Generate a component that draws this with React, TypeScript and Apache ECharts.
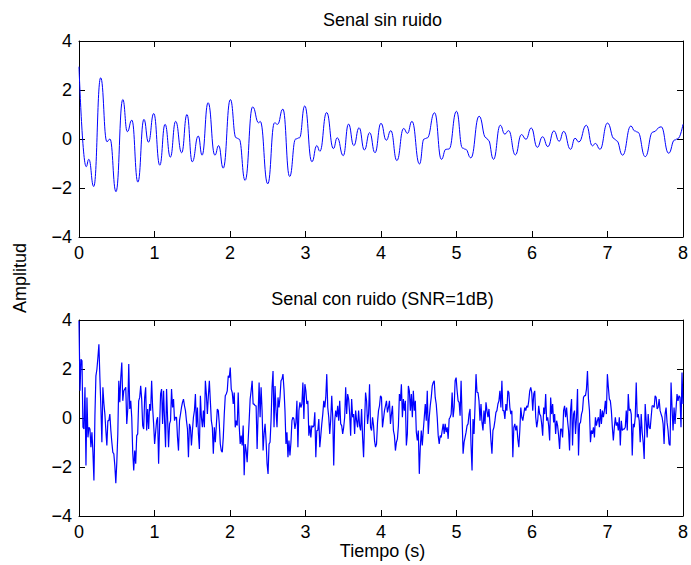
import React, { useEffect, useRef } from "react";
import * as echarts from "echarts";

// Clean signal: turning points and shoulders of the waveform (time in s, amplitude)
const cleanTime = [
  0, 0.095, 0.13, 0.195, 0.287, 0.37, 0.41, 0.49, 0.58, 0.64, 0.7, 0.78, 0.86, 0.92, 0.99, 1.07, 1.14, 1.21, 1.28,
  1.36, 1.43, 1.5, 1.58, 1.63, 1.71, 1.8, 1.85, 1.91, 2.005, 2.08, 2.12, 2.2, 2.3, 2.38, 2.4, 2.5, 2.59, 2.63, 2.7,
  2.79, 2.87, 2.92, 2.99, 3.085, 3.15, 3.19, 3.28, 3.37, 3.42, 3.5, 3.57, 3.64, 3.71, 3.78, 3.85, 3.92, 4.0, 4.07,
  4.13, 4.21, 4.3, 4.35, 4.41, 4.51, 4.57, 4.61, 4.71, 4.8, 4.86, 4.9, 5.0, 5.08, 5.12, 5.19, 5.3, 5.39, 5.42, 5.49,
  5.58, 5.64, 5.69, 5.78, 5.86, 5.92, 5.99, 6.07, 6.14, 6.21, 6.29, 6.36, 6.42, 6.51, 6.57, 6.62, 6.72, 6.8, 6.84,
  6.9, 7.0, 7.09, 7.12, 7.2, 7.31, 7.36, 7.4, 7.5, 7.6, 7.71, 7.81, 7.89, 7.93, 8.0,
];
const cleanAmp = [
  2.95, -1.13, -0.83, -1.94, 2.5, -0.11, 0.0, -2.15, 1.61, 0.3, 0.77, -1.76, 0.8, -0.13, 1.04, -1.07, 0.6, -0.74, 0.72,
  -0.56, 1.0, -0.93, 0.12, -0.66, 1.48, -0.66, -0.27, -1.19, 1.61, 0.05, 0.0, -1.69, 1.31, 0.66, 0.72, -1.83, 0.66, 0.6,
  1.22, -1.53, 0.0, 0.05, 1.35, -0.93, -0.27, -0.5, 1.08, -0.39, 0.05, -0.68, 0.61, -0.27, 0.46, -0.45, 0.26, -0.56,
  0.64, -0.05, 0.34, -0.88, 0.43, 0.23, 0.72, -1.02, 0.0, 0.04, 1.07, -0.83, -0.42, -0.41, 1.13, -0.37, -0.42, -0.77,
  0.93, 0.05, -0.04, -0.83, 0.56, 0.2, 0.34, -0.65, 0.18, -0.01, 0.45, -0.34, 0.09, -0.31, 0.33, -0.09, 0.31, -0.42,
  0.03, -0.12, 0.56, -0.28, -0.18, -0.42, 0.65, 0.01, -0.07, -0.66, 0.53, 0.33, 0.28, -0.72, 0.28, 0.5, -0.58, -0.04,
  0.01, 0.6,
];

// Noisy signal: evenly spaced samples over 0..8 s
const noisyAmp = [
  3.96, 1.11, 2.4, 2.33, -0.38, -0.45, 1.25, -1.94, 0.84, -0.79,
  -0.38, -0.45, -1.19, -0.58, -1.4, -2.55, 0.09, 1.72, 1.99, 2.47,
  3.01, 1.65, 0.43, -0.99, 1.25, 0.6, 0.16, -0.51, -1.12, -0.11,
  -0.11, 0.16, -0.5, -0.99, -1.4, -1.46, -1.94, -2.66, -1.8, -0.65,
  1.52, 0.64, 1.65, 2.26, 0.7, 1.11, 1.18, 1.25, -0.24, 0.37,
  2.2, 0.37, 0.7, 0.03, -1.4, -2.14, -1.33, -1.87, -0.72, -0.65,
  0.7, 0.84, 1.31, 0.77, -0.31, -0.45, 0.84, 1.25, -0.51, 0.37,
  -0.45, 0.57, 0.3, 1.52, 0.43, -0.24, -1.06, -0.58, -0.11, 0.03,
  -1.87, -0.31, 0.98, 1.18, -0.24, 1.11, -0.11, -1.19, 1.18, 0.03,
  -1.19, -0.24, -0.11, 1.18, 0.43, 0.77, -0.11, 0.03, 0.03, -0.79,
  -1.33, -0.11, 0.16, 0.43, 0.64, 0.77, 0.5, 0.3, -0.11, -0.45,
  -1.6, -0.24, -0.38, -1.12, -0.51, 0.03, 0.3, 0.98, -0.38, 0.43,
  -0.65, -1.26, 0.91, 0.03, -0.38, 0.3, -0.38, 1.52, 0.98, 0.16,
  0.9, 1.52, 0.7, -0.11, -0.38, -1.46, -0.38, -0.99, -0.31, 0.37,
  0.3, -0.24, -1.06, -1.33, -1.4, -0.79, 0.16, 0.91, 0.98, 1.11,
  1.72, 1.65, 2.06, 1.18, 1.04, 0.57,
  1.04, -0.38, -0.11, -0.31, 1.04, -0.31, -1.06, -0.72, -1.12, -0.31,
  -2.34, -1.06, -1.33, -1.8, -0.92, -0.11, 0.77, 1.11, 1.52, 0.57,
  0.57, 0.5, 0.5, -1.26, 0.16, 1.45, 0.03, 1.25, 0.3, -1.33,
  -0.65, -0.24, -0.92, -1.87, -2.28, -1.06, -0.99, -0.11, 1.25, 1.92,
  -0.38, 1.31, 0.3, -0.38, 0.84, 0.43, 0.84, 1.52, 1.59, 1.79,
  1.18, 0.3, -1.06, -0.58, -1.6, -0.92, -1.53, -0.99, -0.11, 0.03,
  -0.04, -0.45, -0.18, 0.7, -1.19, 0.3, 0.64, 0.43, 0.57, 1.45,
  -0.04, 1.38, 1.11, 0.57, 0.7, -0.72, -0.31, -0.79, -0.31, -0.38,
  -0.31, 0.23, -1.6, -0.51, -0.51, -0.04, -1.19, -0.72, -0.24, 0.16,
  0.7, 0.43, 0.84, 1.79, 0.43, 0.03, -0.65, -0.04, 0.91, 0.03,
  -1.94, -0.11, 0.3, 0.03, 0.5, -0.11, 0.7, -0.24, -0.31, -0.65,
  -0.38, 0.03, 1.25, 0.16, 0.98, 0.77, 0.16, -0.72, 0.77, 0.03,
  0.16, -0.65, 0.3, -0.11, -0.38, 0.3, -0.31, -0.51, 0.37, -0.79,
  -1.6, -0.18, 1.04, 0.7, -0.24, 0.16, 1.38, -0.38, -0.51, 0.03,
  -0.31, -0.92, -1.19, -1.06, -0.18, 0.3, 0.5, 0.91, 0.84, -0.38,
  -0.04, 0.3, 0.5, 0.7, 0.23, 0.43,
  0.7, -0.24, 0.16, 0.5, -0.51, -0.72, -1.33, -0.99, -0.85, -0.31,
  0.98, 0.7, 1.38, 0.03, 0.77, 0.3, 0.7, -1.12, -0.65, 1.31,
  1.11, 0.3, 0.98, 0.03, 1.11, 0.3, 0.7, -0.58, -0.92, -0.51,
  -2.28, -1.19, -0.51, -1.12, -0.51, 0.03, 0.57, -0.11, 1.11, -0.65,
  0.03, 0.5, 0.84, 1.31, 1.45, 1.52, 0.84, 0.57, 0.03, -0.72,
  -1.06, -0.72, -0.79, -0.51, -0.24, -0.65, -0.24, -0.58, -0.38, -0.85,
  -0.04, 0.03, 0.16, 1.04, 0.03, 0.43, 1.52, 1.65, 1.11, 0.7,
  0.64, 0.09, 1.52, 0.03, -1.46, -0.99, -0.79, -0.58, -0.31, -0.24,
  0.16, 0.37, -1.12, -2.14, -0.04, -0.65, 0.5, 1.79, 1.04, 1.04,
  0.7, -0.11, 0.57, -0.18, -0.51, 0.3, -0.24, 0.64, 0.3, 0.03,
  0.37, -0.24, -0.92, -1.46, -0.51, -0.38, -0.11, 0.23, 0.3, 0.57,
  0.7, 1.11, 0.43, 1.52, 0.3, 0.3, -0.04, 0.57, 0.3, 1.11,
  1.04, 0.43, 0.16, 0.3, -1.6, -0.38, -0.24, -0.51, -0.31, -0.85,
  -1.19, -0.51, 0.43, 0.03, -0.11, 0.16, 0.43, 0.3, 0.5, 0.43,
  0.7, 1.11, 1.25, 1.04, 0.3, 0.98, 1.11, 0.03, -0.38, -0.11,
  0.5, 0.16, 0.09, -0.24, -0.72,
  0.43, 0.16, 0.98, -0.11, 0.03, -0.31, -0.92, 0.84, 0.16, 0.57,
  -0.18, 0.16, -0.65, -0.11, -0.31, -0.72, -1.26, -0.45, -0.45, -0.79,
  0.3, 0.5, 0.03, 0.43, -0.11, -0.51, -1.33, 0.3, 0.77, -1.12,
  0.16, 0.3, -0.65, 0.03, 1.18, -1.53, -0.24, -0.18, 0.16, 0.3,
  0.84, 0.91, 0.91, 1.18, 1.92, 0.77, 0.3, -0.99, -0.51, -0.65,
  -0.38, -0.79, 0.03, -0.31, -0.11, 0.03, -0.38, 0.37, -0.24, 0.3,
  0.03, 0.3, 0.7, 0.16, 1.79, 1.25, 0.77, 0.7, 0.3, -0.38,
  -0.92, -0.38, 0.03, -0.31, -0.18, -0.51, 0.03, -1.12, -0.11, -0.51,
  -0.45, -0.45, -0.38, 0.3, -0.51, 0.98, 0.3, 0.37, 0.16, -1.53,
  -0.24, -0.38, 0.03, 1.45, 0.03, 0.16, -0.11, -0.99, 0.16, -0.58,
  -0.99, -1.67, 0.57, -0.11, -0.79, 0.16, -0.38, -0.45, 0.03, 0.5,
  0.5, 0.43, 0.91, 0.84, 0.37, 0.43, 0.77, 0.3, 0.16, 0.03,
  -0.24, -1.06, 0.16, 0.43, -0.18, -0.51, -1.06, -1.12, 1.45, 0.43,
  -0.51, 0.43, -0.24, 0.37, 0.98, 0.7, 0.91, 0.84, -0.38, 1.86,
  0.57,
];

const tStart = 0;
const tEnd = 8;
const ampMin = -4;
const ampMax = 4;

const titles = ["Senal sin ruido", "Senal con ruido (SNR=1dB)"];
const yName = "Amplitud";
const xName = "Tiempo (s)";

const FONT = "'Liberation Sans', Arial, Helvetica, sans-serif";
const FONT_SIZE = 18;
const LINE_BLUE = "#0000ff";

const GRID_LEFT = 79;
const GRID_WIDTH = 607;
const GRID_HEIGHT = 196;
const GRID_TOPS = [41, 320];

const minusSign = (v: number) => String(v).replace("-", "\u2212");

function xAxisFor(grid: number, position: "bottom" | "top", labels: boolean) {
  return {
    type: "value",
    gridIndex: grid,
    position,
    min: tStart,
    max: tEnd,
    interval: 1,
    axisLine: { show: true, onZero: false, lineStyle: { color: "#000", width: 1 } },
    axisTick: { show: true, inside: true, length: 6, lineStyle: { color: "#000", width: 1 } },
    axisLabel: { show: labels, color: "#000", fontSize: FONT_SIZE, fontFamily: FONT, margin: 7 },
    splitLine: { show: false },
  };
}

function yAxisFor(grid: number, position: "left" | "right", labels: boolean) {
  return {
    type: "value",
    gridIndex: grid,
    position,
    min: ampMin,
    max: ampMax,
    interval: 2,
    axisLine: { show: true, onZero: false, lineStyle: { color: "#000", width: 1 } },
    axisTick: { show: true, inside: true, length: 6, lineStyle: { color: "#000", width: 1 } },
    axisLabel: {
      show: labels,
      color: "#000",
      fontSize: FONT_SIZE,
      fontFamily: FONT,
      margin: 7,
      formatter: minusSign,
    },
    splitLine: { show: false },
  };
}

export default function App() {
  const ref = useRef<HTMLDivElement>(null);

  useEffect(() => {
    if (!ref.current) return;
    const chart = echarts.init(ref.current, null, { renderer: "svg" });

    const cleanData = cleanTime.map((t, i) => [t, cleanAmp[i]]);
    const step = (tEnd - tStart) / (noisyAmp.length - 1);
    const noisyData = noisyAmp.map((v, i) => [tStart + i * step, v]);

    const centerX = GRID_LEFT + GRID_WIDTH / 2;
    const textStyle = (text: string) => ({
      text,
      fill: "#000",
      font: `${FONT_SIZE}px ${FONT}`,
      textAlign: "center",
      textVerticalAlign: "middle",
    });

    chart.setOption({
      animation: false,
      backgroundColor: "#fff",
      grid: GRID_TOPS.map((top) => ({
        left: GRID_LEFT,
        top,
        width: GRID_WIDTH,
        height: GRID_HEIGHT,
        containLabel: false,
      })),
      xAxis: [
        xAxisFor(0, "bottom", true),
        xAxisFor(0, "top", false),
        xAxisFor(1, "bottom", true),
        xAxisFor(1, "top", false),
      ],
      yAxis: [
        yAxisFor(0, "left", true),
        yAxisFor(0, "right", false),
        yAxisFor(1, "left", true),
        yAxisFor(1, "right", false),
      ],
      series: [
        {
          type: "line",
          xAxisIndex: 0,
          yAxisIndex: 0,
          data: cleanData,
          smooth: 0.5,
          smoothMonotone: "x",
          showSymbol: false,
          lineStyle: { color: LINE_BLUE, width: 1 },
          clip: true,
        },
        {
          type: "line",
          xAxisIndex: 2,
          yAxisIndex: 2,
          data: noisyData,
          showSymbol: false,
          lineStyle: { color: LINE_BLUE, width: 1.2 },
          clip: true,
        },
      ],
      graphic: [
        { type: "text", x: centerX, y: 20, style: textStyle(titles[0]) },
        { type: "text", x: centerX, y: 299, style: textStyle(titles[1]) },
        { type: "text", x: centerX, y: 551, style: textStyle(xName) },
        { type: "text", x: 20, y: 278, rotation: Math.PI / 2, style: textStyle(yName) },
      ],
    });

    return () => chart.dispose();
  }, []);

  return (
    <div
      ref={ref}
      style={{ position: "absolute", left: 0, top: 0, width: 691, height: 565, background: "#fff" }}
    />
  );
}
